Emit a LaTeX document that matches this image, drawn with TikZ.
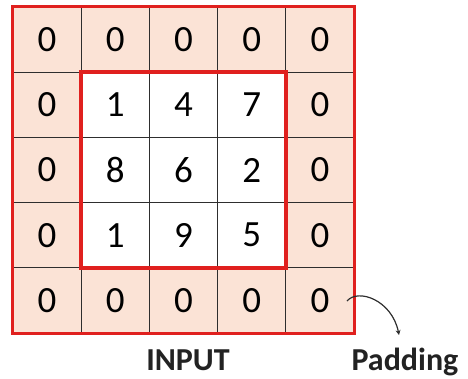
\documentclass[tikz,border=0pt]{standalone}
\usepackage{fontspec}
\setmainfont{Carlito}
\usetikzlibrary{arrows.meta}
\definecolor{pad}{HTML}{FBE3D6}
\definecolor{redl}{HTML}{E0201E}
\definecolor{gridc}{HTML}{2E2E2E}
\definecolor{txt}{HTML}{222222}
\tikzset{
  cell/.style={minimum width=68.2pt,minimum height=65.2pt,inner sep=0pt,draw=gridc,line width=0.9pt,font=\fontsize{37}{37}\selectfont,text=black},
  padcell/.style={cell,fill=pad},
  valcell/.style={cell,fill=white},
  redbox/.style={draw=redl,line width=3.8pt},
  label/.style={font=\fontsize{32}{32}\selectfont\bfseries,text=txt}
}
\begin{document}
\begin{tikzpicture}[x=1pt,y=-1pt]
\useasboundingbox (0,0) rectangle (468,378);
\def\vals{{{0,0,0,0,0},{0,1,4,7,0},{0,8,6,2,0},{0,1,9,5,0},{0,0,0,0,0}}}
\foreach \r in {0,...,4}{
  \foreach \c in {0,...,4}{
    \pgfmathsetmacro{\v}{\vals[\r][\c]}
    \pgfmathtruncatemacro{\vv}{\v}
    \ifnum\r=0 \def\st{padcell}\else\ifnum\r=4 \def\st{padcell}\else\ifnum\c=0 \def\st{padcell}\else\ifnum\c=4 \def\st{padcell}\else\def\st{valcell}\fi\fi\fi\fi
    \node[\st] (c\r\c) at ({13+68.2*(\c+0.5)},{7+65.2*(\r+0.5)}) {\vv};
  }
}
\draw[redbox] (c00.north west) rectangle (c44.south east);
\draw[redbox] (c11.north west) rectangle (c33.south east);
\node[label,anchor=base] (input) at (188,370) {INPUT};
\node[label,anchor=base west] (padding) at (348,370) {Padding};
\coordinate (astart) at (347,301);
\coordinate (aend) at (399,335);
\draw[gridc,line width=1.2pt,-{Stealth[length=5pt,width=5pt]}] (astart) .. controls (358,288) and (392,300) .. (aend);
\end{tikzpicture}
\end{document}
